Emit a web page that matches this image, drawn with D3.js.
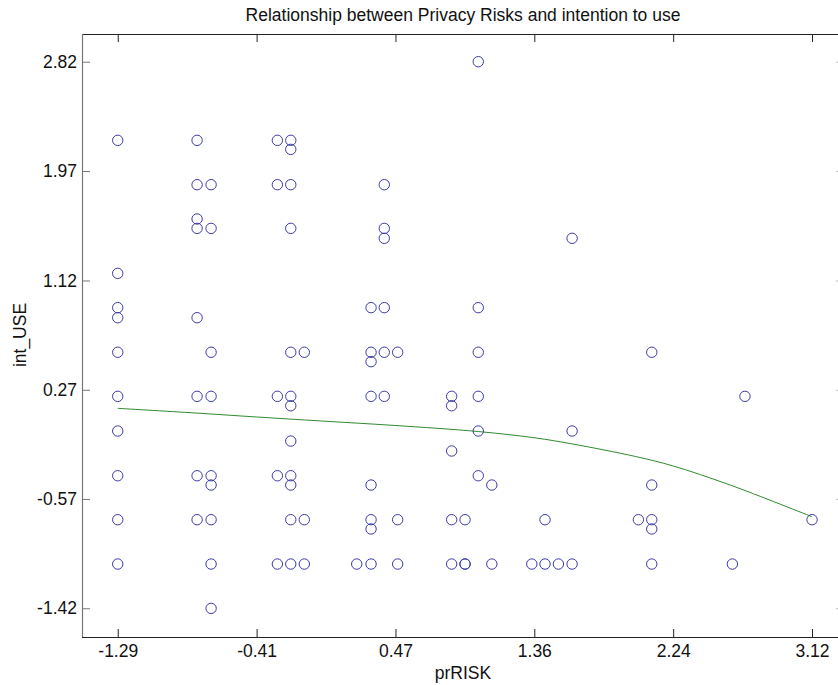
<!DOCTYPE html>
<html>
<head>
<meta charset="utf-8">
<script src="https://cdn.jsdelivr.net/npm/d3@7"></script>
<style>
  html, body { margin: 0; padding: 0; background: #fff; overflow: hidden; }
  svg { display: block; font-family: "Liberation Sans", Arial, sans-serif; }
</style>
</head>
<body>
<svg id="chart" width="838" height="685"></svg>
<script>
// prRISK values, one per observation
var prRisk = [
  -1.29, -1.29, -1.29, -1.29, -1.29, -1.29, -1.29, -1.29, -1.29, -1.29,
  -0.786, -0.786, -0.786, -0.786, -0.786, -0.786, -0.786, -0.786,
  -0.697, -0.697, -0.697, -0.697, -0.697, -0.697, -0.697, -0.697, -0.697,
  -0.276, -0.276, -0.276, -0.276, -0.276,
  -0.191, -0.191, -0.191, -0.191, -0.191, -0.191, -0.191, -0.191, -0.191, -0.191, -0.191, -0.191,
  -0.105, -0.105, -0.105,
  0.228,
  0.319, 0.319, 0.319, 0.319, 0.319, 0.319, 0.319, 0.319,
  0.403, 0.403, 0.403, 0.403, 0.403, 0.403,
  0.488, 0.488, 0.488,
  0.831, 0.831, 0.831, 0.831, 0.831,
  0.916, 0.916, 0.916,
  1.0, 1.0, 1.0, 1.0, 1.0, 1.0,
  1.086, 1.086,
  1.34,
  1.424, 1.424,
  1.509,
  1.596, 1.596, 1.596,
  2.017,
  2.102, 2.102, 2.102, 2.102, 2.102,
  2.614,
  2.694,
  3.12
];

// int_USE values, same order as prRisk
var intUse = [
  2.21, 1.178, 0.912, 0.834, 0.566, 0.224, -0.045, -0.392, -0.733, -1.077,
  2.21, 1.866, 1.6, 1.527, 0.834, 0.224, -0.392, -0.733,
  1.866, 1.527, 0.566, 0.224, -0.392, -0.464, -0.733, -1.077, -1.421,
  2.21, 1.866, 0.224, -0.392, -1.077,
  2.21, 2.14, 1.866, 1.527, 0.566, 0.224, 0.151, -0.123, -0.392, -0.464, -0.733, -1.077,
  0.566, -0.733, -1.077,
  -1.077,
  0.912, 0.566, 0.493, 0.224, -0.464, -0.733, -0.805, -1.077,
  1.866, 1.527, 1.45, 0.912, 0.566, 0.224,
  0.566, -0.733, -1.077,
  0.224, 0.151, -0.2, -0.733, -1.077,
  -0.733, -1.077, -1.077,
  2.82, 0.912, 0.566, 0.224, -0.045, -0.392,
  -0.464, -1.077,
  -1.077,
  -0.733, -1.077,
  -1.077,
  1.45, -0.045, -1.077,
  -0.733,
  0.566, -0.464, -0.733, -0.805, -1.077,
  -1.077,
  0.224,
  -0.733
];

// fitted curve
var fitX = [-1.29, -0.8, -0.41, 0, 0.47, 1.0, 1.36, 1.6, 2.0, 2.24, 2.6, 3.12];
var fitY = [0.131, 0.095, 0.064, 0.033, -0.002, -0.049, -0.098, -0.146, -0.243, -0.317, -0.464, -0.71];

var xTicks = [-1.29, -0.408, 0.474, 1.356, 2.238, 3.12];
var xTickLabels = ['-1.29', '-0.41', '0.47', '1.36', '2.24', '3.12'];
var yTicks = [-1.42, -0.572, 0.275, 1.123, 1.972, 2.82];
var yTickLabels = ['-1.42', '-0.57', '0.27', '1.12', '1.97', '2.82'];

var
  svg = d3.select('#chart'),
  box = {left: 82, right: 844, top: 34, bottom: 637},
  xScale = d3.scaleLinear().domain([-1.517, 3.323]).range([box.left, box.right]),
  yScale = d3.scaleLinear().domain([-1.643, 3.035]).range([box.bottom, box.top]),
  tickLen = 8,
  fontSize = '17.5px'
  ;

svg.append('rect')
  .attr('width', 838).attr('height', 685)
  .attr('fill', '#fff');

// inward ticks on all four sides, matlab style
var xAxisB = d3.axisBottom(xScale).tickValues(xTicks)
    .tickSize(-tickLen).tickPadding(8)
    .tickFormat((d, i) => xTickLabels[i]),
  xAxisT = d3.axisTop(xScale).tickValues(xTicks)
    .tickSize(-tickLen).tickFormat(''),
  yAxisL = d3.axisLeft(yScale).tickValues(yTicks)
    .tickSize(-tickLen).tickPadding(5)
    .tickFormat((d, i) => yTickLabels[i]),
  yAxisR = d3.axisRight(yScale).tickValues(yTicks)
    .tickSize(-tickLen).tickFormat('');

function styleAxis(g, col, horizontal) {
  g.select('.domain')
    .attr('stroke', col).attr('stroke-width', 1.2)
    .attr('d', horizontal ? `M${box.left},0.5H${box.right}` : `M0.5,${box.top}V${box.bottom}`);
  g.selectAll('.tick line').attr('stroke', col);
  g.selectAll('.tick text')
    .attr('fill', '#111')
    .attr('font-size', fontSize)
    .attr('font-family', '"Liberation Sans", Arial, sans-serif');
}

svg.append('g')
  .attr('class', 'axis axis--x')
  .attr('transform', `translate(0,${box.bottom})`)
  .call(xAxisB)
  .call(g => styleAxis(g, '#222', true));

svg.append('g')
  .attr('class', 'axis axis--x-top')
  .attr('transform', `translate(0,${box.top})`)
  .call(xAxisT)
  .call(g => styleAxis(g, '#222', true));

svg.append('g')
  .attr('class', 'axis axis--y')
  .attr('transform', `translate(${box.left},0)`)
  .call(yAxisL)
  .call(g => styleAxis(g, '#777', false));

svg.append('g')
  .attr('class', 'axis axis--y-right')
  .attr('transform', `translate(${box.right},0)`)
  .call(yAxisR)
  .call(g => styleAxis(g, '#bbb', false));

// fit line
var fitPts = fitX.map((x, i) => [x, fitY[i]]);
svg.append('path')
  .datum(fitPts)
  .attr('fill', 'none')
  .attr('stroke', '#2f8a2f')
  .attr('stroke-width', 1)
  .attr('d', d3.line()
    .x(d => xScale(d[0]))
    .y(d => yScale(d[1]))
    .curve(d3.curveCatmullRom.alpha(0.5)));

// scatter
svg.append('g')
  .attr('class', 'points')
  .selectAll('circle')
  .data(prRisk.map((x, i) => ({x: x, y: intUse[i]})))
  .enter()
  .append('circle')
  .attr('cx', d => xScale(d.x))
  .attr('cy', d => yScale(d.y))
  .attr('r', 5.2)
  .attr('fill', 'none')
  .attr('stroke', '#3b3ba6')
  .attr('stroke-width', 1);

// labels
svg.append('text')
  .attr('x', 463).attr('y', 21)
  .attr('text-anchor', 'middle')
  .attr('font-size', fontSize)
  .attr('fill', '#111')
  .text('Relationship between Privacy Risks and intention to use');

svg.append('text')
  .attr('x', 463).attr('y', 679)
  .attr('text-anchor', 'middle')
  .attr('font-size', fontSize)
  .attr('fill', '#111')
  .text('prRISK');

svg.append('text')
  .attr('transform', 'translate(26,335) rotate(-90)')
  .attr('text-anchor', 'middle')
  .attr('font-size', fontSize)
  .attr('fill', '#111')
  .text('int_USE');
</script>
</body>
</html>
